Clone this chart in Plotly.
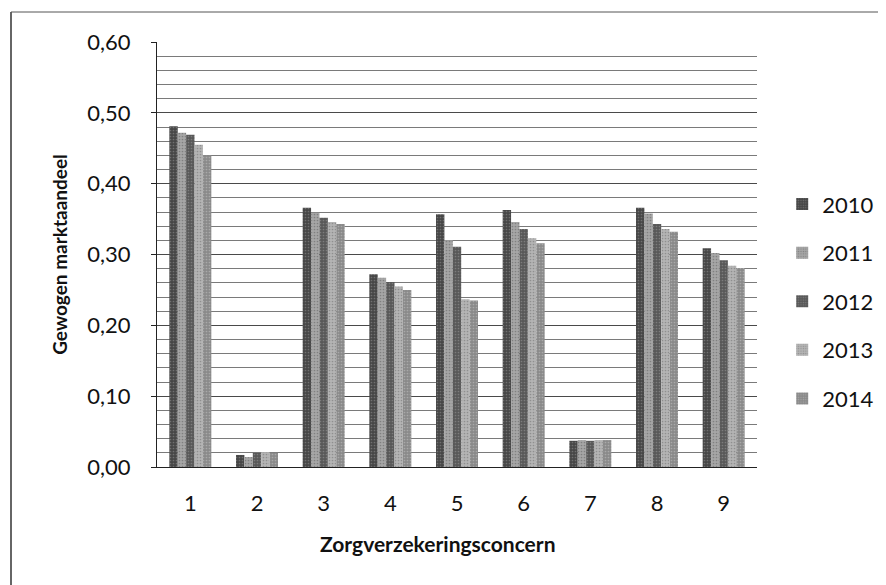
import plotly.graph_objects as go

categories = ["1", "2", "3", "4", "5", "6", "7", "8", "9"]
years = ["2010", "2011", "2012", "2013", "2014"]
v2010 = [0.481, 0.017, 0.366, 0.272, 0.357, 0.363, 0.037, 0.366, 0.309]
v2011 = [0.472, 0.014, 0.359, 0.267, 0.320, 0.346, 0.038, 0.358, 0.302]
v2012 = [0.469, 0.020, 0.352, 0.261, 0.311, 0.336, 0.037, 0.343, 0.292]
v2013 = [0.455, 0.021, 0.346, 0.255, 0.237, 0.323, 0.038, 0.336, 0.284]
v2014 = [0.440, 0.020, 0.343, 0.250, 0.235, 0.316, 0.038, 0.332, 0.281]
series = [v2010, v2011, v2012, v2013, v2014]
colors = ["#464646", "#a6a6a6", "#585858", "#b4b4b4", "#8a8a8a"]
pattern_fg = ["#9a9a9a", "#5a5a5a", "#a0a0a0", "#6a6a6a", "#c8c8c8"]

font_family = "Lato, 'Open Sans', sans-serif"

fig = go.Figure()
for name, vals, col, fg in zip(years, series, colors, pattern_fg):
    fig.add_trace(go.Bar(
        x=categories, y=vals, name=name, legendgroup=name,
        marker=dict(color=col, line=dict(width=0),
                    pattern=dict(shape=".", fgcolor=fg, size=3, solidity=0.25, fillmode="overlay")),
    ))

# the page body adds an 8px offset, so the figure is 8px smaller than the window
fig.update_layout(
    width=878, height=577,
    margin=dict(l=149, r=129, t=34, b=118, autoexpand=False),
    paper_bgcolor="white", plot_bgcolor="white",
    barmode="group", bargap=0.37, bargroupgap=0,
    separators=",.",
    font=dict(family=font_family, color="#111111", size=22),
    legend=dict(x=1.042, y=0.39, xanchor="left", yanchor="middle",
                font=dict(size=22, family=font_family, color="#111111"),
                tracegroupgap=17, itemwidth=30, bgcolor="rgba(0,0,0,0)"),
    showlegend=True,
)
fig.update_yaxes(
    range=[0, 0.6], dtick=0.1, tickformat=".2f",
    showgrid=True, gridcolor="#4a4a4a", gridwidth=1,
    minor=dict(dtick=0.02, showgrid=True, gridcolor="#7a7a7a", gridwidth=1),
    showline=True, linecolor="#222222", linewidth=1,
    ticks="outside", ticklen=5, tickcolor="#222222",
    ticklabelstandoff=16,
    tickfont=dict(size=22, family=font_family),
    title=dict(text="<b>Gewogen marktaandeel</b>", font=dict(size=19, family=font_family), standoff=14),
    zeroline=False,
)
fig.update_xaxes(
    showline=True, linecolor="#222222", linewidth=1,
    ticks="", tickfont=dict(size=22, family=font_family),
    ticklabelstandoff=17,
    showgrid=False,
)

# x-axis title
fig.add_annotation(text="<b>Zorgverzekeringsconcern</b>", xref="paper", yref="paper",
                   x=(437.5 - 157) / 600, y=-(543 - 467) / 425, xanchor="center", yanchor="middle",
                   showarrow=False, font=dict(size=21, family=font_family, color="#111111"))

# outer frame lines (left and top edges of the scanned chart area)
fig.add_shape(type="line", xref="paper", yref="paper",
              x0=(11 - 157) / 600, x1=(11 - 157) / 600, y0=1 + (42 - 12) / 425, y1=-(585 - 467) / 425,
              line=dict(color="#333333", width=1.5))
fig.add_shape(type="line", xref="paper", yref="paper",
              x0=(11 - 157) / 600, x1=(886 - 157) / 600, y0=1 + (42 - 12) / 425, y1=1 + (42 - 12) / 425,
              line=dict(color="#555555", width=1))

fig.write_html("out.html")
